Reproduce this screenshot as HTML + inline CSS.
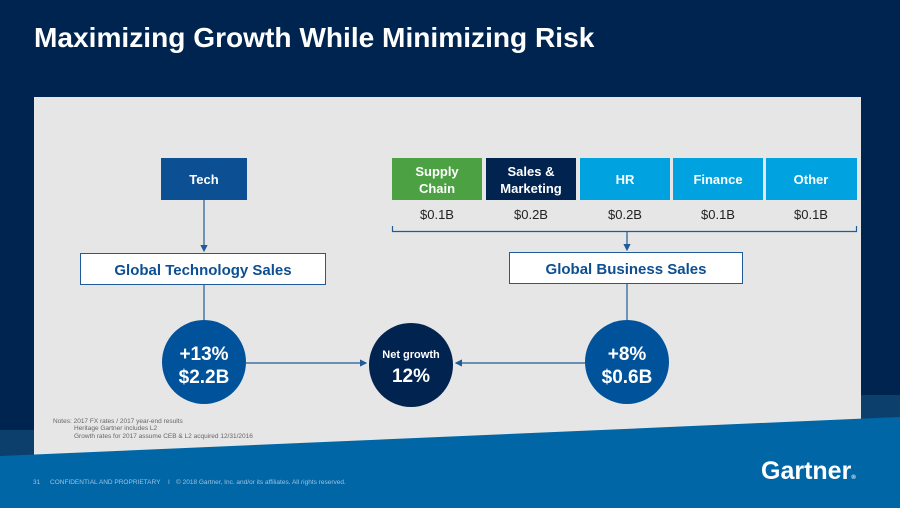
<!DOCTYPE html>
<html><head><meta charset="utf-8"><style>
html,body{margin:0;padding:0;width:900px;height:508px;overflow:hidden;background:#002450;font-family:"Liberation Sans",sans-serif}
</style></head><body>
<svg width="900" height="508" viewBox="0 0 900 508" xmlns="http://www.w3.org/2000/svg" font-family="Liberation Sans, sans-serif">
<defs><marker id="ah" markerWidth="6" markerHeight="6" refX="5" refY="3" orient="auto"><path d="M0,0 L6,3 L0,6 z" fill="#1f5b9a"/></marker></defs>
<rect width="900" height="508" fill="#002450"/>
<rect x="0" y="430" width="34" height="30" fill="#0c3f6c"/>
<rect x="861" y="395" width="39" height="30" fill="#0c3f6c"/>
<text x="34" y="47" fill="#fff" font-size="28.1" font-weight="bold">Maximizing Growth While Minimizing Risk</text>
<polygon points="34,97 861,97 861,421 34,456" fill="#e6e6e6"/>
<polygon points="0,456 900,417 900,508 0,508" fill="#0066a6"/>
<rect x="161" y="158" width="86" height="42" fill="#0d4f93"/>
<text x="204" y="184" fill="#fff" font-size="13" font-weight="bold" text-anchor="middle">Tech</text>
<line x1="204" y1="200" x2="204" y2="251" stroke="#1f5b9a" stroke-width="1.2" marker-end="url(#ah)"/>
<rect x="80.5" y="253.5" width="245" height="31" fill="#fff" stroke="#1f5b9a"/>
<text x="203" y="275" fill="#0d4f93" font-size="15" font-weight="bold" text-anchor="middle">Global Technology Sales</text>
<line x1="204" y1="285" x2="204" y2="320" stroke="#1f5b9a" stroke-width="1.2"/>
<rect x="392" y="158" width="90" height="42" fill="#4ca143"/>
<text x="437" y="176" fill="#fff" font-size="13" font-weight="bold" text-anchor="middle">Supply</text>
<text x="437" y="193" fill="#fff" font-size="13" font-weight="bold" text-anchor="middle">Chain</text>
<rect x="486" y="158" width="90" height="42" fill="#002350"/>
<text x="531" y="176" fill="#fff" font-size="13" font-weight="bold" text-anchor="middle">Sales &amp;</text>
<text x="531" y="193" fill="#fff" font-size="13" font-weight="bold" text-anchor="middle">Marketing</text>
<rect x="580" y="158" width="90" height="42" fill="#00a3e0"/>
<text x="625" y="184" fill="#fff" font-size="13" font-weight="bold" text-anchor="middle">HR</text>
<rect x="673" y="158" width="90" height="42" fill="#00a3e0"/>
<text x="718" y="184" fill="#fff" font-size="13" font-weight="bold" text-anchor="middle">Finance</text>
<rect x="766" y="158" width="91" height="42" fill="#00a3e0"/>
<text x="811" y="184" fill="#fff" font-size="13" font-weight="bold" text-anchor="middle">Other</text>
<g font-size="13" fill="#222" text-anchor="middle">
<text x="437" y="219">$0.1B</text><text x="531" y="219">$0.2B</text><text x="625" y="219">$0.2B</text><text x="718" y="219">$0.1B</text><text x="811" y="219">$0.1B</text>
</g>
<path d="M392.5,226 V231.5 H856.5 V226" fill="none" stroke="#1f5b9a" stroke-width="1.2"/>
<line x1="627" y1="231" x2="627" y2="250" stroke="#1f5b9a" stroke-width="1.2" marker-end="url(#ah)"/>
<rect x="509.5" y="252.5" width="233" height="31" fill="#fff" stroke="#1f5b9a"/>
<text x="626" y="274" fill="#0d4f93" font-size="15" font-weight="bold" text-anchor="middle">Global Business Sales</text>
<line x1="627" y1="284" x2="627" y2="320" stroke="#1f5b9a" stroke-width="1.2"/>
<circle cx="204" cy="362" r="42" fill="#00529b"/>
<text x="204" y="360" fill="#fff" font-size="19" font-weight="bold" text-anchor="middle">+13%</text>
<text x="204" y="383" fill="#fff" font-size="19" font-weight="bold" text-anchor="middle">$2.2B</text>
<circle cx="411" cy="365" r="42" fill="#002350"/>
<text x="411" y="358" fill="#fff" font-size="11" font-weight="bold" text-anchor="middle">Net growth</text>
<text x="411" y="382" fill="#fff" font-size="19" font-weight="bold" text-anchor="middle">12%</text>
<circle cx="627" cy="362" r="42" fill="#00529b"/>
<text x="627" y="360" fill="#fff" font-size="19" font-weight="bold" text-anchor="middle">+8%</text>
<text x="627" y="383" fill="#fff" font-size="19" font-weight="bold" text-anchor="middle">$0.6B</text>
<line x1="246" y1="363" x2="366" y2="363" stroke="#1f5b9a" stroke-width="1.2" marker-end="url(#ah)"/>
<line x1="585" y1="363" x2="456" y2="363" stroke="#1f5b9a" stroke-width="1.2" marker-end="url(#ah)"/>
<g font-size="6.5" fill="#666">
<text x="53" y="423">Notes: 2017 FX rates / 2017 year-end results</text>
<text x="74" y="430">Heritage Gartner includes L2</text>
<text x="74" y="438">Growth rates for 2017 assume CEB &amp; L2 acquired 12/31/2016</text>
</g>
<g font-size="6.5" fill="#9cc3e0">
<text x="33" y="484">31</text>
<text x="50" y="484">CONFIDENTIAL AND PROPRIETARY</text>
<text x="168" y="484">I</text>
<text x="176" y="484">© 2018 Gartner, Inc. and/or its affiliates. All rights reserved.</text>
</g>
<text x="761" y="479" font-size="25" font-weight="bold" fill="#fff">Gartner<tspan font-size="6">®</tspan></text>
</svg>
</body></html>
